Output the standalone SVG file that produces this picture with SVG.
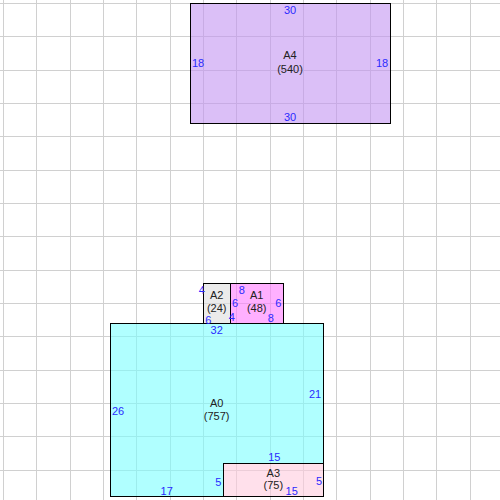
<svg xmlns="http://www.w3.org/2000/svg" width="500" height="500" viewBox="0 0 500 500">
<style>
.grid line{stroke:#d0d0d0;stroke-width:1;shape-rendering:crispEdges}
.box{stroke:#000;stroke-width:1;fill-opacity:0.6;shape-rendering:crispEdges}
.lbl{font-family:"Liberation Sans",Arial,sans-serif;font-size:11px;fill:#222;text-anchor:middle}
.dim{font-family:"Liberation Sans",Arial,sans-serif;font-size:11px;fill:#2a2aff;text-anchor:middle}
</style>
<rect x="0" y="0" width="500" height="500" fill="#fff"/>
<g class="grid">
<line x1="3.33" y1="0" x2="3.33" y2="500"/><line x1="36.67" y1="0" x2="36.67" y2="500"/><line x1="70" y1="0" x2="70" y2="500"/><line x1="103.33" y1="0" x2="103.33" y2="500"/><line x1="136.67" y1="0" x2="136.67" y2="500"/><line x1="170" y1="0" x2="170" y2="500"/><line x1="203.33" y1="0" x2="203.33" y2="500"/><line x1="236.67" y1="0" x2="236.67" y2="500"/><line x1="270" y1="0" x2="270" y2="500"/><line x1="303.33" y1="0" x2="303.33" y2="500"/><line x1="336.67" y1="0" x2="336.67" y2="500"/><line x1="370" y1="0" x2="370" y2="500"/><line x1="403.33" y1="0" x2="403.33" y2="500"/><line x1="436.67" y1="0" x2="436.67" y2="500"/><line x1="470" y1="0" x2="470" y2="500"/>
<line y1="3.33" x1="0" y2="3.33" x2="500"/><line y1="36.67" x1="0" y2="36.67" x2="500"/><line y1="70" x1="0" y2="70" x2="500"/><line y1="103.33" x1="0" y2="103.33" x2="500"/><line y1="136.67" x1="0" y2="136.67" x2="500"/><line y1="170" x1="0" y2="170" x2="500"/><line y1="203.33" x1="0" y2="203.33" x2="500"/><line y1="236.67" x1="0" y2="236.67" x2="500"/><line y1="270" x1="0" y2="270" x2="500"/><line y1="303.33" x1="0" y2="303.33" x2="500"/><line y1="336.67" x1="0" y2="336.67" x2="500"/><line y1="370" x1="0" y2="370" x2="500"/><line y1="403.33" x1="0" y2="403.33" x2="500"/><line y1="436.67" x1="0" y2="436.67" x2="500"/><line y1="470" x1="0" y2="470" x2="500"/>
</g>
<g id="A4">
<rect class="box" x="190" y="3.33" width="200" height="120" fill="#c394f2"/>
<text class="lbl" x="290" y="59">A4</text>
<text class="lbl" x="290" y="72.5">(540)</text>
<text class="dim" x="290" y="14">30</text>
<text class="dim" x="290" y="121">30</text>
<text class="dim" x="198" y="67">18</text>
<text class="dim" x="382" y="67">18</text>
</g>
<g id="A0">
<polygon class="box" points="110,323.33 323.33,323.33 323.33,463.33 223.33,463.33 223.33,496.67 110,496.67" fill="#7bffff"/>
<text class="lbl" x="216.7" y="406.6">A0</text>
<text class="lbl" x="216.7" y="420">(757)</text>
<text class="dim" x="216.7" y="334">32</text>
<text class="dim" x="118" y="414.5">26</text>
<text class="dim" x="315" y="398">21</text>
<text class="dim" x="274.3" y="460.5">15</text>
<text class="dim" x="218.3" y="485.5">5</text>
<text class="dim" x="166.7" y="494.5">17</text>
</g>
<g id="A3">
<rect class="box" x="223.33" y="463.33" width="100" height="33.33" fill="#ffcbde"/>
<text class="lbl" x="273.3" y="476.6">A3</text>
<text class="lbl" x="273.3" y="489">(75)</text>
<text class="dim" x="291.7" y="494.5">15</text>
<text class="dim" x="319" y="484.5">5</text>
</g>
<g id="A1">
<rect class="box" x="230" y="283.33" width="53.33" height="40" fill="#ff7bff"/>
<text class="lbl" x="256.7" y="299">A1</text>
<text class="lbl" x="256.7" y="311.5">(48)</text>
<text class="dim" x="241.7" y="294">8</text>
<text class="dim" x="235" y="307">6</text>
<text class="dim" x="278.3" y="307">6</text>
<text class="dim" x="270.7" y="322">8</text>
</g>
<g id="A2">
<rect class="box" x="203.33" y="283.33" width="26.67" height="40" fill="#dedede"/>
<text class="lbl" x="216.7" y="299">A2</text>
<text class="lbl" x="216.7" y="311.5">(24)</text>
<text class="dim" x="201.7" y="294">4</text>
<text class="dim" x="208.3" y="324">6</text>
<text class="dim" x="231.7" y="320.5">4</text>
</g>
</svg>
